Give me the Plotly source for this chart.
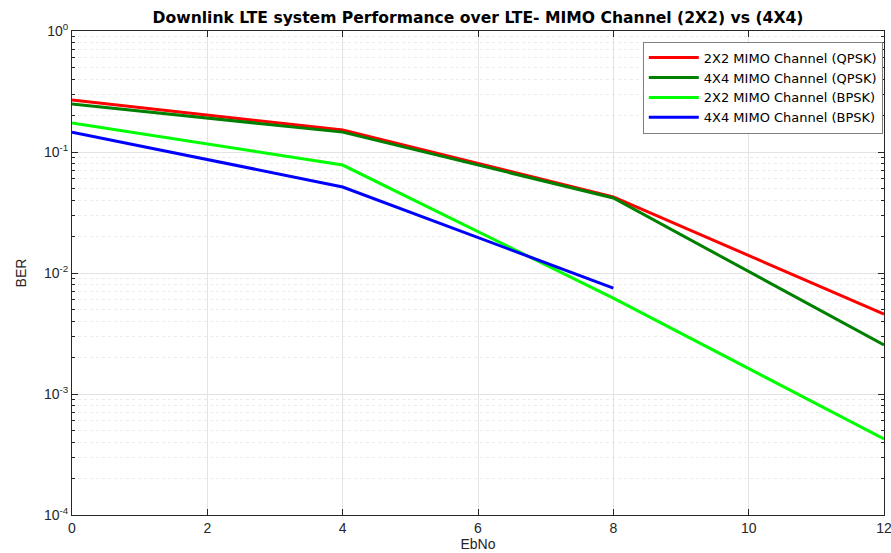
import plotly.graph_objects as go

ebno = [0, 4, 8, 12]
ebno_blue = [0, 4, 8]
ber_2x2_qpsk = [0.269, 0.152, 0.0425, 0.00458]
ber_4x4_qpsk = [0.249, 0.146, 0.0417, 0.00254]
ber_2x2_bpsk = [0.174, 0.078, 0.0062, 0.000425]
ber_4x4_bpsk = [0.146, 0.0514, 0.0075]

names = ["2X2 MIMO Channel (QPSK)", "4X4 MIMO Channel (QPSK)",
         "2X2 MIMO Channel (BPSK)", "4X4 MIMO Channel (BPSK)"]
colors = ["#FF0000", "#008000", "#00FF00", "#0000FF"]

ytickvals = [1e-4, 1e-3, 1e-2, 1e-1, 1]
yticktext = ["10<sup>-4</sup>", "10<sup>-3</sup>", "10<sup>-2</sup>", "10<sup>-1</sup>", "10<sup>0</sup>"]
xtickvals = [0, 2, 4, 6, 8, 10, 12]

fig = go.Figure()
series = [(ebno, ber_2x2_qpsk), (ebno, ber_4x4_qpsk), (ebno, ber_2x2_bpsk), (ebno_blue, ber_4x4_bpsk)]
for (x, y), n, c in zip(series, names, colors):
    fig.add_trace(go.Scatter(x=x, y=y, mode="lines", name=n,
                             line=dict(color=c, width=3)))

axis_font = dict(family="Liberation Sans, Arial, sans-serif", size=14, color="#262626")

fig.update_layout(
    width=891, height=553,
    margin=dict(l=72, r=7, t=31, b=38, autoexpand=False),
    paper_bgcolor="white", plot_bgcolor="white",
    title=dict(text="<b>Downlink LTE system Performance over LTE- MIMO Channel (2X2) vs (4X4)</b>",
               x=0.5, xanchor="center", xref="paper", y=0.969, yanchor="middle", yref="container",
               automargin=False,
               font=dict(family="DejaVu Sans, sans-serif", size=15.6, color="black")),
    showlegend=True,
    legend=dict(x=0.9985, xanchor="right", y=0.978, yanchor="top",
                bordercolor="#7f7f7f", borderwidth=1, bgcolor="white",
                font=dict(family="DejaVu Sans, sans-serif", size=13, color="black"),
                tracegroupgap=0, itemwidth=50),
    xaxis=dict(range=[0, 12], tickvals=xtickvals, showgrid=True, gridcolor="#e3e3e3",
               zeroline=False, showline=True, linecolor="#262626", linewidth=1, mirror="ticks",
               ticks="inside", ticklen=6, tickcolor="#262626", tickfont=axis_font,
               automargin=False, ticklabeloverflow="allow",
               title=dict(text="EbNo", font=axis_font, standoff=0)),
    yaxis=dict(type="log", range=[-4, 0], tickvals=ytickvals, ticktext=yticktext,
               showgrid=True, gridcolor="#e3e3e3", zeroline=False,
               showline=True, linecolor="#262626", linewidth=1, mirror="ticks",
               ticks="inside", ticklen=6, tickcolor="#262626", tickfont=axis_font,
               automargin=False, ticklabeloverflow="allow",
               minor=dict(dtick="D1", ticks="inside", ticklen=3, tickcolor="#262626",
                          showgrid=True, gridcolor="#ebebeb", griddash="dot", gridwidth=1),
               title=dict(text="BER", font=axis_font, standoff=14)),
)

fig.write_html("out.html", config={"displayModeBar": False},
               post_script="document.body.style.margin='0px';")
